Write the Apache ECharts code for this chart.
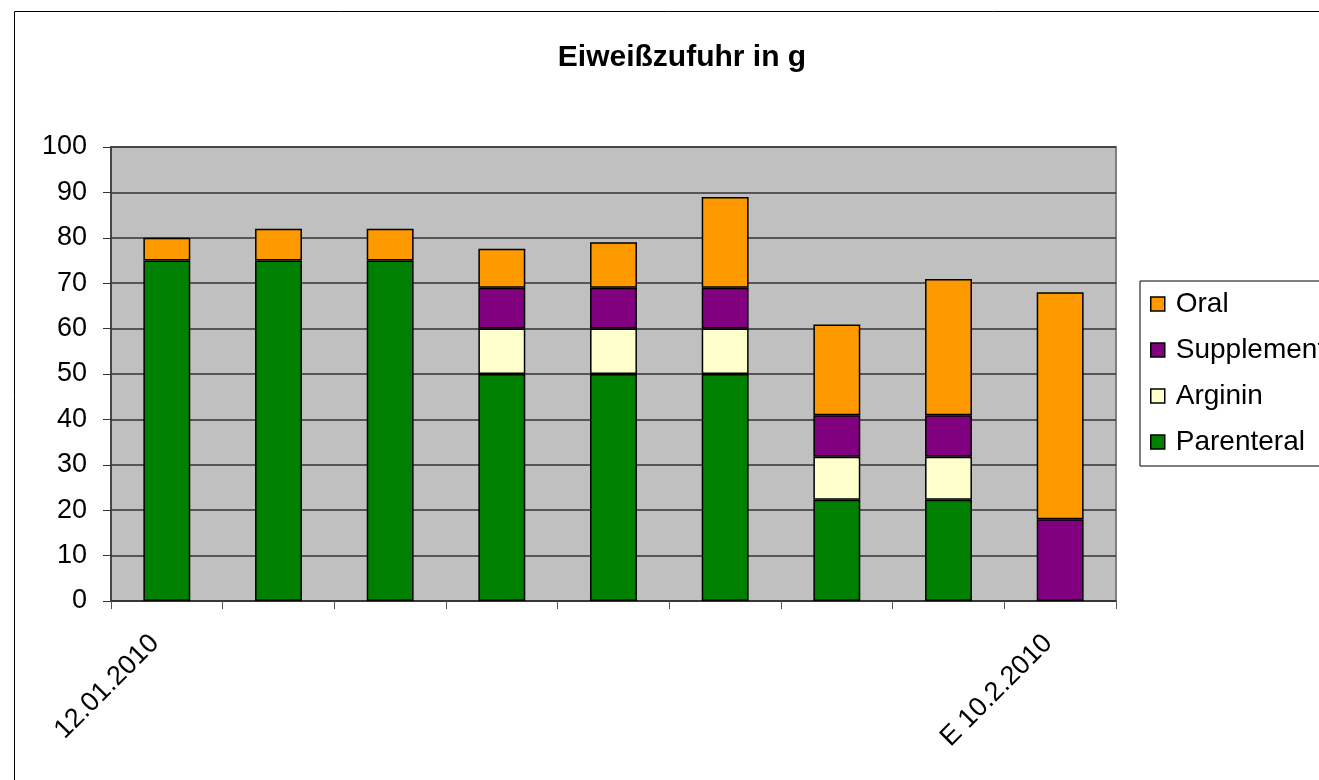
<!DOCTYPE html>
<html>
<head>
<meta charset="utf-8">
<title>Eiweißzufuhr in g</title>
<script src="https://cdn.jsdelivr.net/npm/echarts@6/dist/echarts.min.js"></script>
<style>
  html, body { margin: 0; padding: 0; background: #fff; }
  #chart { width: 1319px; height: 780px; }
</style>
</head>
<body>
<div id="chart"></div>
<script>
// categories: only first and last have a label
var dates = ['12.01.2010', '', '', '', '', '', '', '', 'E 10.2.2010']

var parenteral = [75, 75, 75, 50, 50, 50, 22.3, 22.3, null]
var arginin = [null, null, null, 10, 10, 10, 9.5, 9.5, null]
var supplement = [null, null, null, 9, 9, 9, 9.1, 9.1, 18]
var oral = [5, 7, 7, 8.6, 10, 20, 20, 30, 50]

var yTicks = { min: 0, max: 100, interval: 10 }

var font = 'Liberation Sans, Arial, sans-serif'

function bar(name, color, data) {
  return {
    name: name,
    type: 'bar',
    stack: 'total',
    barWidth: '42%',
    itemStyle: {
      color: color,
      borderColor: '#000',
      borderWidth: 1.5
    },
    data: data
  }
}

var chart = echarts.init(document.getElementById('chart'))
chart.setOption({
  animation: false,
  title: {
    text: 'Eiweißzufuhr in g',
    left: 677,
    top: 38,
    textAlign: 'center',
    textStyle: {
      fontFamily: font,
      fontWeight: 'bold',
      fontSize: 30,
      color: '#000'
    }
  },
  graphic: [
    {
      type: 'rect',
      left: 12,
      top: 9,
      shape: { width: 1400, height: 900 },
      style: { fill: 'none', stroke: '#000', lineWidth: 1 },
      silent: true
    }
  ],
  legend: {
    orient: 'vertical',
    left: 1140,
    top: 281,
    data: ['Oral', 'Supplement', 'Arginin', 'Parenteral'],
    icon: 'rect',
    itemWidth: 14,
    itemHeight: 14,
    itemGap: 18,
    padding: [9, 60, 10, 10],
    borderColor: '#000',
    borderWidth: 1,
    itemStyle: { borderColor: '#000', borderWidth: 1.5 },
    textStyle: {
      fontFamily: font,
      fontSize: 28,
      color: '#000',
      padding: [0, 0, 0, 6]
    }
  },
  grid: {
    left: 111,
    right: 203,
    top: 147,
    bottom: 179,
    show: true,
    backgroundColor: '#C0C0C0',
    borderColor: '#808080',
    borderWidth: 2
  },
  xAxis: {
    type: 'category',
    data: dates,
    boundaryGap: true,
    axisLine: { lineStyle: { color: '#333', width: 1.5 } },
    axisTick: { show: true, interval: 0, length: 8, lineStyle: { color: '#555' } },
    axisLabel: {
      interval: 0,
      rotate: 45,
      margin: 26,
      padding: [0, 17, 0, 0],
      fontFamily: font,
      fontSize: 27,
      color: '#000'
    }
  },
  yAxis: {
    type: 'value',
    min: yTicks.min,
    max: yTicks.max,
    interval: yTicks.interval,
    axisLine: { show: true, lineStyle: { color: '#333', width: 1.5 } },
    axisTick: { show: true, length: 8, lineStyle: { color: '#333' } },
    axisLabel: {
      margin: 24,
      fontFamily: font,
      fontSize: 27,
      color: '#000'
    },
    splitLine: { lineStyle: { color: '#333', width: 1.5 } }
  },
  series: [
    bar('Parenteral', '#008000', parenteral),
    bar('Arginin', '#FFFFCC', arginin),
    bar('Supplement', '#800080', supplement),
    bar('Oral', '#FF9900', oral)
  ]
})
</script>
</body>
</html>
